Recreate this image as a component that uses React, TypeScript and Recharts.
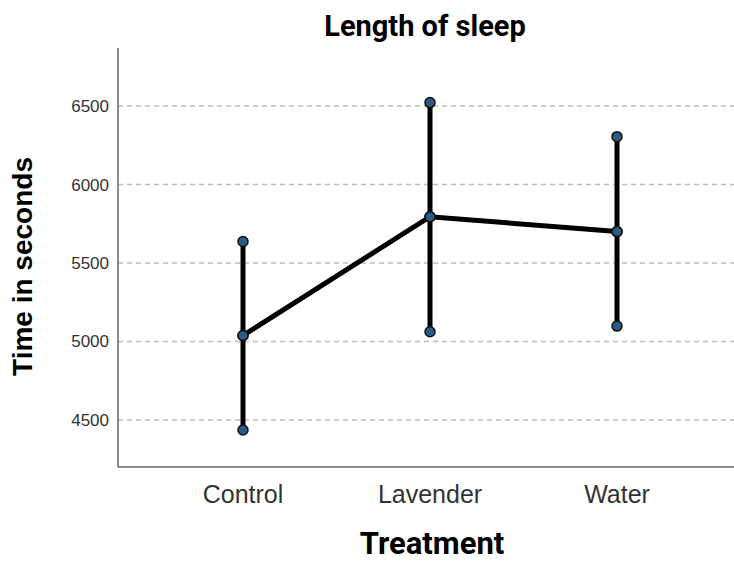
import {
  ComposedChart,
  Line,
  ErrorBar,
  XAxis,
  YAxis,
  CartesianGrid,
} from 'recharts'

const TREATMENTS = ['Control', 'Lavender', 'Water']
const MEANS = [5038, 5795, 5700]
const LOWS = [4436, 5062, 5098]
const HIGHS = [5637, 6522, 6305]
const Y_TICKS = [4500, 5000, 5500, 6000, 6500]

const data = TREATMENTS.map((name, i) => ({
  name,
  mean: MEANS[i],
  low: LOWS[i],
  high: HIGHS[i],
  err: [MEANS[i] - LOWS[i], HIGHS[i] - MEANS[i]],
}))

const DOT = { r: 5, fill: '#2b5b85', stroke: '#111', strokeWidth: 1.5 }

// the plot runs off the right edge in the original, so the svg is wider and clipped
export default function App() {
  return (
    <div
      style={{
        position: 'fixed',
        left: 0,
        top: 0,
        width: 734,
        height: 561,
        overflow: 'hidden',
        background: '#fff',
      }}
    >
      <div
        style={{
          position: 'absolute',
          left: 0,
          top: 9,
          width: 734,
          paddingLeft: 116,
          boxSizing: 'border-box',
          textAlign: 'center',
          fontFamily: 'Roboto',
          fontWeight: 700,
          fontSize: 29,
          lineHeight: '34px',
          color: '#000',
        }}
      >
        Length of sleep
      </div>
      <ComposedChart width={780} height={561} data={data} margin={{ top: 48, right: 0, bottom: 0, left: 0 }}>
        <CartesianGrid
          vertical={false}
          horizontalValues={Y_TICKS}
          stroke="#bdbdbd"
          strokeWidth={1.5}
          strokeDasharray="5 4"
        />
        <XAxis
          dataKey="name"
          scale="point"
          padding={{ left: 125, right: 163 }}
          height={94}
          tickLine={false}
          axisLine={{ stroke: '#666', strokeWidth: 1.5 }}
          tick={{ fontSize: 25, fill: '#333', fontFamily: 'Liberation Sans, Arial' }}
          tickMargin={12}
          label={{
            value: 'Treatment',
            position: 'insideBottom',
            offset: 7,
            dx: -17,
            style: { fontSize: 31, fontWeight: 700, fontFamily: 'Roboto', fill: '#000' },
          }}
        />
        <YAxis
          domain={[4200, 6870]}
          ticks={Y_TICKS}
          width={118}
          tickLine={false}
          axisLine={{ stroke: '#666', strokeWidth: 1.5 }}
          tick={{ fontSize: 17, fill: '#333', fontFamily: 'Liberation Sans, Arial' }}
          tickMargin={3}
          label={{
            value: 'Time in seconds',
            angle: -90,
            position: 'insideLeft',
            offset: 22,
            dy: 9,
            style: {
              textAnchor: 'middle',
              fontSize: 28,
              fontWeight: 700,
              fontFamily: 'Liberation Sans, Arial',
              fill: '#000',
            },
          }}
        />
        <Line
          dataKey="mean"
          stroke="#000"
          strokeWidth={5}
          dot={DOT}
          activeDot={false}
          isAnimationActive={false}
        >
          <ErrorBar dataKey="err" direction="y" width={0} stroke="#000" strokeWidth={5} />
        </Line>
        <Line dataKey="low" stroke="none" dot={DOT} activeDot={false} isAnimationActive={false} />
        <Line dataKey="high" stroke="none" dot={DOT} activeDot={false} isAnimationActive={false} />
        <Line dataKey="mean" stroke="none" dot={DOT} activeDot={false} isAnimationActive={false} />
      </ComposedChart>
    </div>
  )
}
